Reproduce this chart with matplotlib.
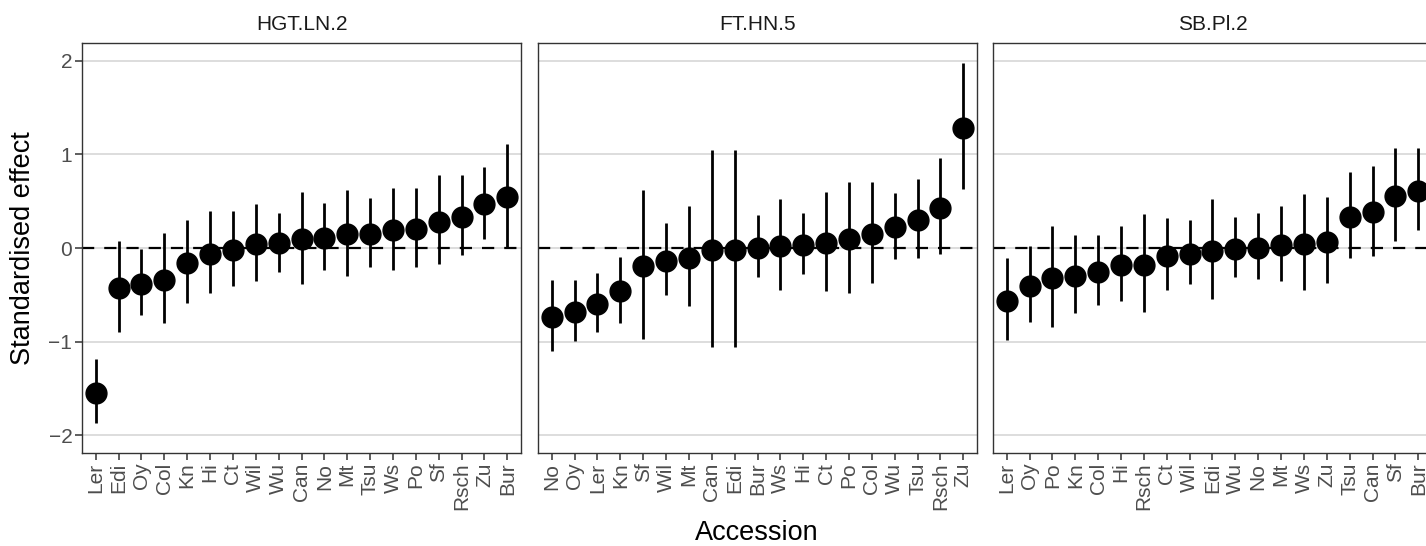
import numpy as np
import matplotlib
matplotlib.use("Agg")
import matplotlib.pyplot as plt

plt.rcParams['font.family'] = ['Liberation Sans', 'DejaVu Sans']

# facet titles
panels = ["HGT.LN.2", "FT.HN.5", "SB.Pl.2"]

# HGT.LN.2
acc_hgt = ["Ler", "Edi", "Oy", "Col", "Kn", "Hi", "Ct", "Wil", "Wu", "Can",
           "No", "Mt", "Tsu", "Ws", "Po", "Sf", "Rsch", "Zu", "Bur"]
est_hgt = [-1.545, -0.423, -0.381, -0.342, -0.164, -0.060, -0.025, 0.043, 0.050, 0.093,
           0.107, 0.149, 0.149, 0.189, 0.203, 0.281, 0.327, 0.466, 0.548]
lo_hgt = [-1.865, -0.893, -0.715, -0.804, -0.591, -0.484, -0.406, -0.352, -0.253, -0.388,
          -0.238, -0.299, -0.203, -0.235, -0.203, -0.174, -0.078, 0.100, 0.014]
hi_hgt = [-1.19, 0.078, -0.011, 0.157, 0.295, 0.391, 0.395, 0.470, 0.377, 0.594,
          0.484, 0.623, 0.537, 0.641, 0.644, 0.776, 0.776, 0.865, 1.114]

# FT.HN.5
acc_ft = ["No", "Oy", "Ler", "Kn", "Sf", "Wil", "Mt", "Can", "Edi", "Bur",
          "Ws", "Hi", "Ct", "Po", "Col", "Wu", "Tsu", "Rsch", "Zu"]
est_ft = [-0.733, -0.680, -0.601, -0.463, -0.196, -0.142, -0.103, -0.021, -0.018, 0.004,
          0.025, 0.032, 0.053, 0.096, 0.146, 0.221, 0.295, 0.423, 1.281]
lo_ft = [-1.096, -0.993, -0.897, -0.797, -0.975, -0.505, -0.619, -1.053, -1.053, -0.306,
         -0.445, -0.274, -0.456, -0.477, -0.377, -0.117, -0.110, -0.064, 0.626]
hi_ft = [-0.338, -0.338, -0.267, -0.096, 0.623, 0.263, 0.448, 1.046, 1.046, 0.349,
         0.527, 0.374, 0.598, 0.708, 0.708, 0.591, 0.733, 0.957, 1.972]

# SB.Pl.2
acc_sb = ["Ler", "Oy", "Po", "Kn", "Col", "Hi", "Rsch", "Ct", "Wil", "Edi",
          "Wu", "No", "Mt", "Ws", "Zu", "Tsu", "Can", "Sf", "Bur"]
est_sb = [-0.562, -0.402, -0.320, -0.299, -0.256, -0.185, -0.178, -0.085, -0.064, -0.028,
          -0.007, 0.004, 0.032, 0.046, 0.064, 0.335, 0.381, 0.555, 0.609]
lo_sb = [-0.982, -0.790, -0.847, -0.698, -0.612, -0.566, -0.680, -0.448, -0.388, -0.548,
         -0.313, -0.331, -0.352, -0.448, -0.377, -0.110, -0.085, 0.078, 0.196]
hi_sb = [-0.110, 0.018, 0.235, 0.135, 0.135, 0.235, 0.359, 0.317, 0.295, 0.520,
         0.335, 0.377, 0.448, 0.573, 0.541, 0.815, 0.879, 1.068, 1.068]

data = [
    (acc_hgt, est_hgt, lo_hgt, hi_hgt),
    (acc_ft, est_ft, lo_ft, hi_ft),
    (acc_sb, est_sb, lo_sb, hi_sb),
]

W, H = 1426, 546
fig = plt.figure(figsize=(W / 100, H / 100), dpi=100)

# panel positions in pixels (third panel runs off the right edge, as in the source)
lefts = [82, 538, 993]
pw, top, bot = 439, 43, 453

border = "#333333"
for i, (acc, est, lo, hi) in enumerate(data):
    ax = fig.add_axes([lefts[i] / W, (H - bot) / H, pw / W, (bot - top) / H])
    x = np.arange(len(acc))

    ax.axhline(0, color="black", lw=1.6, dashes=(5.5, 4.5), zorder=2)
    ax.vlines(x, lo, hi, color="black", lw=2.0, zorder=3)
    ax.plot(x, est, "o", color="black", ms=15, zorder=4)

    ax.set_xlim(-0.6, len(acc) - 0.4)
    ax.set_ylim(-2.19, 2.19)
    ax.set_yticks([-2, -1, 0, 1, 2])
    ax.set_yticklabels(["\u22122", "\u22121", "0", "1", "2"])
    ax.set_xticks(x)
    ax.set_xticklabels(acc, rotation=90)

    ax.grid(axis="y", color="#D3D3D3", lw=1.1, zorder=0)
    ax.set_axisbelow(True)
    for s in ax.spines.values():
        s.set_color(border)
        s.set_linewidth(1.0)
    ax.tick_params(axis="x", length=5, width=1.1, color=border,
                   labelsize=15, labelcolor="#4D4D4D", pad=2)
    if i == 0:
        ax.tick_params(axis="y", length=5, width=1.1, color=border,
                       labelsize=15, labelcolor="#4D4D4D", pad=2)
    else:
        ax.tick_params(axis="y", length=0, labelleft=False)

    ax.set_title(panels[i], fontsize=15, color="#1A1A1A", pad=9)

fig.text(23 / W, 1 - 248 / H, "Standardised effect", rotation=90,
         ha="center", va="center", fontsize=19.5)
fig.text(757 / W, 1 - 533 / H, "Accession", ha="center", va="center", fontsize=19.5)

fig.savefig("out.png", dpi=100)
